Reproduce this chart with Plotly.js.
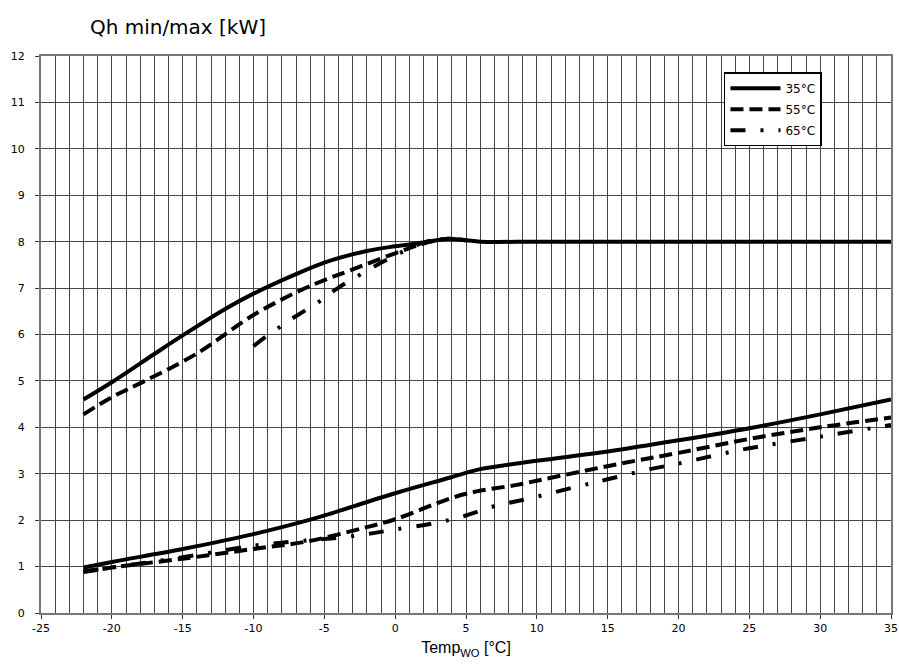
<!DOCTYPE html>
<html>
<head>
<meta charset="utf-8">
<script src="https://cdn.plot.ly/plotly-3.0.1.min.js"></script>
<style>html,body{margin:0;padding:0;background:#fff;}#chart{width:899px;height:666px;}</style>
</head>
<body>
<div id="chart"></div>
<script>
// Upper curves (max)
const maxT35 = [-22, -20, -17, -15, -12, -10, -7, -5, -2, 0, 2, 3.6, 5, 6, 10, 15, 20, 25, 30, 35];
const maxQ35 = [4.6, 4.97, 5.58, 5.98, 6.55, 6.88, 7.3, 7.55, 7.8, 7.9, 7.98, 8.06, 8.03, 8.0, 8.0, 8.0, 8.0, 8.0, 8.0, 8.0];
const maxT55 = [-22, -20, -17.8, -14, -10, -6.7, -5, -3.2, 0, 2, 3.6, 5];
const maxQ55 = [4.28, 4.65, 4.98, 5.59, 6.42, 6.95, 7.17, 7.38, 7.75, 7.96, 8.06, 8.03];
const maxT65 = [-10, -9.2, -8.2, -7.3, -6.4, -5.4, -4.1, -0.9, 0.5, 2, 3.6, 5];
const maxQ65 = [5.75, 5.94, 6.15, 6.34, 6.51, 6.70, 6.99, 7.56, 7.78, 7.98, 8.06, 8.03];
// Lower curves (min)
const minT35 = [-22, -20, -15, -10, -6.25, -5, 0, 3.9, 5, 6, 10, 15, 20, 25, 30, 35];
const minQ35 = [0.98, 1.1, 1.38, 1.7, 1.99, 2.1, 2.58, 2.92, 3.02, 3.1, 3.28, 3.48, 3.72, 3.98, 4.28, 4.6];
const minT55 = [-22, -20, -15, -10, -6.25, -2.25, 0, 3.9, 5.75, 8.6, 10, 15.6, 20, 25, 30, 35];
const minQ55 = [0.88, 0.98, 1.17, 1.38, 1.54, 1.83, 2.02, 2.47, 2.62, 2.76, 2.85, 3.2, 3.45, 3.75, 4.0, 4.21];
const minT65 = [-22, -20, -15, -10, -6, -4, -2, 0, 2.7, 4.8, 7, 9.5, 12.8, 15, 18, 20, 23.2, 25, 30, 35];
const minQ65 = [0.9, 0.98, 1.2, 1.45, 1.57, 1.62, 1.70, 1.8, 1.93, 2.08, 2.3, 2.47, 2.72, 2.88, 3.1, 3.22, 3.44, 3.55, 3.8, 4.05];

const seriesNames = ['35°C', '55°C', '65°C'];
const xTicks = [-25, -20, -15, -10, -5, 0, 5, 10, 15, 20, 25, 30, 35];
const yTicks = [0, 1, 2, 3, 4, 5, 6, 7, 8, 9, 10, 11, 12];

const styles = [
  {color: '#000', width: 4, dash: 'solid'},
  {color: '#000', width: 4, dash: '13px,6px'},
  {color: '#000', width: 4, dash: '15px,15px,3px,15px'}
];

const traces = [];
function add(x, y, i, show) {
  traces.push({x: x, y: y, type: 'scatter', mode: 'lines', name: seriesNames[i],
    line: Object.assign({shape: 'spline', smoothing: 1}, styles[i]),
    showlegend: show, legendgroup: seriesNames[i]});
}
add(maxT65, maxQ65, 2, false);
add(minT65, minQ65, 2, false);
add(maxT55, maxQ55, 1, false);
add(minT55, minQ55, 1, false);
add(maxT35, maxQ35, 0, true);
add(minT35, minQ35, 0, false);
// legend entries for dashed series (drawn in legend only)
const leg55 = Object.assign({}, traces[2], {showlegend: true, x: [-100], y: [-100]});
const leg65 = Object.assign({}, traces[0], {showlegend: true, x: [-100], y: [-100]});
traces.push(leg55, leg65);

const layout = {
  width: 899, height: 666,
  margin: {l: 41, r: 8, t: 56, b: 53},
  paper_bgcolor: '#fff', plot_bgcolor: '#fff',
  font: {family: 'DejaVu Sans, Verdana, sans-serif', size: 11, color: '#000'},
  title: {text: 'Qh min/max [kW]', xref: 'container', yref: 'container', x: 0.1, xanchor: 'left', y: 0.96, yanchor: 'middle',
    font: {family: 'DejaVu Sans, sans-serif', size: 20, color: '#000'}},
  xaxis: {range: [-25, 35], tickvals: xTicks, ticktext: xTicks.map(String),
    showgrid: true, gridcolor: '#444', gridwidth: 1,
    minor: {dtick: 1, showgrid: true, gridcolor: '#444', gridwidth: 1},
    showline: true, linecolor: '#777', linewidth: 2, mirror: true,
    ticks: 'outside', ticklen: 4, tickcolor: '#333', zeroline: false,
    tickfont: {family: 'DejaVu Sans, Verdana, sans-serif', size: 11},
    title: {text: 'Temp<sub>WO</sub> [°C]', standoff: 8, font: {family: 'Liberation Sans, Arial, sans-serif', size: 16}}},
  yaxis: {range: [0, 12], tickvals: yTicks, ticktext: yTicks.map(String),
    showgrid: true, gridcolor: '#444', gridwidth: 1,
    showline: true, linecolor: '#777', linewidth: 2, mirror: true,
    ticks: 'outside', ticklen: 4, tickcolor: '#333', zeroline: false,
    ticklabelstandoff: 8,
    tickfont: {family: 'DejaVu Sans, Verdana, sans-serif', size: 11}},
  legend: {x: 0.8035, y: 0.971, xanchor: 'left', yanchor: 'top', bgcolor: '#fff',
    bordercolor: '#000', borderwidth: 1.5, font: {family: 'DejaVu Sans, Verdana, sans-serif', size: 12},
    traceorder: 'grouped', tracegroupgap: 2, itemwidth: 50},
  showlegend: true
};

Plotly.newPlot('chart', traces, layout, {displayModeBar: false, staticPlot: true});
</script>
</body>
</html>
